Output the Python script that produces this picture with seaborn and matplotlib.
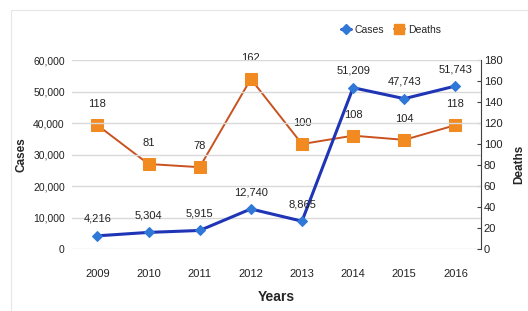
#! /bin/env python3

''' Cases and deaths per year, dual axis line chart '''

import matplotlib
matplotlib.use("Agg")
import matplotlib.pyplot as plt
from matplotlib.lines import Line2D
import seaborn as sns
from pandas import DataFrame

years = ["2009", "2010", "2011", "2012", "2013", "2014", "2015", "2016"]
cases = [4216, 5304, 5915, 12740, 8865, 51209, 47743, 51743]
deaths = [118, 81, 78, 162, 100, 108, 104, 118]

case_ticks = [0, 10000, 20000, 30000, 40000, 50000, 60000]
death_ticks = [0, 20, 40, 60, 80, 100, 120, 140, 160, 180]


def _main():
    sns.set_style("white")
    plt.rcParams['font.family'] = ['Liberation Sans Narrow', 'Liberation Sans', 'DejaVu Sans']
    plt.rcParams['font.size'] = 8

    data = DataFrame({"year": years, "cases": cases, "deaths": deaths})
    data["pos"] = range(len(years))

    fig = plt.figure(figsize=(5.28, 3.11), dpi=100)
    ax = fig.add_axes([0.136, 0.199, 0.775, 0.608])
    ax2 = ax.twinx()

    blue_line = "#1f35b5"
    blue_mark = "#2f78d8"
    orange_line = "#c9521f"
    orange_mark = "#f28a22"

    # cases drawn on top of deaths
    ax.set_zorder(ax2.get_zorder() + 1)
    ax.patch.set_visible(False)

    sns.lineplot(data, x="pos", y="deaths", ax=ax2, color=orange_line,
                 linewidth=1.4, marker="s", markersize=9,
                 markerfacecolor=orange_mark, markeredgecolor=orange_mark,
                 clip_on=False)
    sns.lineplot(data, x="pos", y="cases", ax=ax, color=blue_line,
                 linewidth=2.2, marker="D", markersize=5,
                 markerfacecolor=blue_mark, markeredgecolor=blue_mark,
                 clip_on=False)

    ax.set_xlim(-0.5, len(years) - 0.5)
    ax.set_ylim(0, 60000)
    ax2.set_ylim(0, 180)
    ax.set_xticks(data["pos"], years)
    ax.set_yticks(case_ticks, [f"{v:,}" for v in case_ticks])
    ax2.set_yticks(death_ticks, [str(v) for v in death_ticks])

    ax.grid(axis="y", color="#d9d9d9", linewidth=1.0)
    ax.grid(axis="x", visible=False)
    for spine in ["top", "left", "bottom", "right"]:
        ax.spines[spine].set_visible(False)
    for spine in ["top", "left", "bottom"]:
        ax2.spines[spine].set_visible(False)
    ax2.spines["right"].set_color("#404040")
    ax2.spines["right"].set_linewidth(0.8)

    ax.tick_params(axis="y", length=0, labelsize=7.5, pad=5, colors="#222222")
    ax.tick_params(axis="x", length=0, labelsize=8, pad=14, colors="#222222")
    ax2.tick_params(axis="y", direction="in", length=3, width=0.8,
                    labelsize=8, pad=2, colors="#222222")
    ax2.tick_params(axis="y", color="#404040")

    ax.set_xlabel("Years", fontsize=10, fontweight="bold", labelpad=8)
    ax.set_ylabel("Cases", fontsize=8.5, fontweight="bold")
    ax2.set_ylabel("Deaths", fontsize=8.5, fontweight="bold")
    ax.yaxis.set_label_coords(-0.108, 0.5)
    ax2.yaxis.set_label_coords(1.078, 0.45)

    for pos, val in zip(data["pos"], cases):
        ax.annotate(f"{val:,}", (pos, val), xytext=(0, 10),
                    textcoords="offset points", ha="center", fontsize=8,
                    color="#222222")
    for pos, val in zip(data["pos"], deaths):
        ax2.annotate(str(val), (pos, val), xytext=(0, 13),
                     textcoords="offset points", ha="center", fontsize=8,
                     color="#222222")

    handles = [
        Line2D([], [], color=blue_line, linewidth=2, marker="D", markersize=5.5,
               markerfacecolor=blue_mark, markeredgecolor=blue_mark),
        Line2D([], [], color=orange_line, linewidth=1.4, marker="s", markersize=7,
               markerfacecolor=orange_mark, markeredgecolor=orange_mark),
    ]
    fig.legend(handles, ["Cases", "Deaths"], loc="center",
               bbox_to_anchor=(0.74, 0.905), ncol=2, frameon=False,
               fontsize=7.5, handlelength=1.0, columnspacing=1.0,
               handletextpad=0.3)

    # faint frame of the original chart image
    fig.add_artist(Line2D([0.021, 0.021], [0.0, 0.968], color="#e6e6e6",
                          linewidth=0.8))
    fig.add_artist(Line2D([0.021, 1.0], [0.968, 0.968], color="#e6e6e6",
                          linewidth=0.8))

    fig.savefig("out.png", dpi=100)


if __name__ == "__main__":
    _main()
